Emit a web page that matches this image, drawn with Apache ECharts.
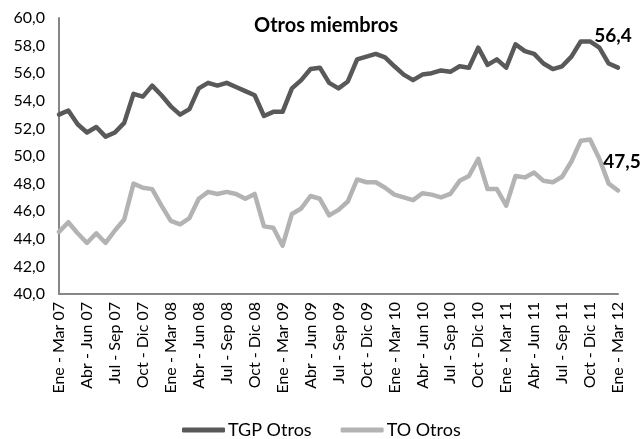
<!DOCTYPE html>
<html>
<head>
<meta charset="utf-8">
<script src="https://cdn.jsdelivr.net/npm/echarts@6/dist/echarts.min.js"></script>
<style>html,body{margin:0;padding:0;background:#fff}#c{width:640px;height:439px}</style>
</head>
<body>
<div id="c"></div>
<script>
const monthNames = ["Ene","Feb","Mar","Abr","May","Jun","Jul","Ago","Sep","Oct","Nov","Dic"];
const startYear = 2007;
const nPoints = 61;
const categories = [];
for (let i = 0; i < nPoints; i++) {
  const m = i % 12;
  const yEnd = startYear + Math.floor((i + 2) / 12);
  categories.push(monthNames[m] + " - " + monthNames[(m + 2) % 12] + " " + String(yEnd % 100).padStart(2, "0"));
}
const tgpOtros = [53.0,53.3,52.3,51.7,52.1,51.4,51.7,52.4,54.5,54.3,55.1,54.4,53.6,53.0,53.4,54.9,55.3,55.1,55.3,55.0,54.7,54.4,52.9,53.2,53.2,54.9,55.5,56.3,56.4,55.3,54.9,55.4,57.0,57.2,57.4,57.15,56.5,55.9,55.5,55.9,56.0,56.2,56.1,56.5,56.4,57.85,56.6,57.0,56.4,58.1,57.6,57.4,56.7,56.3,56.5,57.2,58.3,58.3,57.85,56.7,56.4];
const toOtros = [44.5,45.2,44.4,43.7,44.4,43.7,44.6,45.4,48.0,47.7,47.6,46.4,45.3,45.05,45.5,46.9,47.4,47.25,47.4,47.25,46.9,47.25,44.9,44.8,43.5,45.8,46.2,47.1,46.9,45.7,46.1,46.7,48.3,48.1,48.1,47.7,47.2,47.0,46.8,47.3,47.2,47.0,47.25,48.2,48.55,49.8,47.6,47.6,46.4,48.55,48.45,48.8,48.2,48.1,48.5,49.6,51.1,51.2,49.8,48.0,47.5];
const yTicks = {min: 40, max: 60, interval: 2};
const FONT = "Lato";
const fmt = v => v.toFixed(1).replace(".", ",");

function endMark(arr, offset) {
  const last = arr.length - 1;
  return {
    symbol: "circle", symbolSize: 0, silent: true,
    itemStyle: {color: "rgba(0,0,0,0)"},
    label: {show: true, position: "inside", offset: offset, formatter: () => fmt(arr[last]),
      fontFamily: FONT, fontWeight: "bold", fontSize: 19, color: "#000"},
    data: [{coord: [last, arr[last]]}]
  };
}

const chart = echarts.init(document.getElementById("c"), null, {renderer: "canvas"});
chart.setOption({
  animation: false,
  title: {text: "Otros miembros", left: 321, textAlign: "center", top: 11,
    textStyle: {fontFamily: FONT, fontWeight: "bold", fontSize: 20, color: "#000"}},
  grid: {left: 59, right: 22, top: 18, bottom: 145, containLabel: false},
  legend: {bottom: 0, left: 182, padding: 0, icon: "roundRect", itemWidth: 43, itemHeight: 5, itemGap: 29,
    textStyle: {fontFamily: FONT, fontSize: 18, color: "#000", padding: [0, 0, 0, -2]},
    data: ["TGP Otros", "TO Otros"]},
  xAxis: {type: "category", data: categories, boundaryGap: false,
    axisLine: {lineStyle: {color: "#868686", width: 2}}, axisTick: {show: false},
    axisLabel: {interval: 2, rotate: 90, margin: 8, fontFamily: FONT, fontSize: 16, color: "#000"},
    splitLine: {show: false}},
  yAxis: {type: "value", min: yTicks.min, max: yTicks.max, interval: yTicks.interval,
    axisLine: {show: true, lineStyle: {color: "#868686", width: 2}}, axisTick: {show: false},
    axisLabel: {formatter: fmt, margin: 14, fontFamily: FONT, fontSize: 16, color: "#000"},
    splitLine: {show: false}},
  series: [
    {name: "TGP Otros", type: "line", data: tgpOtros, symbol: "none",
      lineStyle: {color: "#595959", width: 4.5, join: "round", cap: "round"}, itemStyle: {color: "#595959"},
      markPoint: endMark(tgpOtros, [-5, -32])},
    {name: "TO Otros", type: "line", data: toOtros, symbol: "none",
      lineStyle: {color: "#b3b3b3", width: 4.5, join: "round", cap: "round"}, itemStyle: {color: "#b3b3b3"},
      markPoint: endMark(toOtros, [4, -29])}
  ]
});
</script>
</body>
</html>
